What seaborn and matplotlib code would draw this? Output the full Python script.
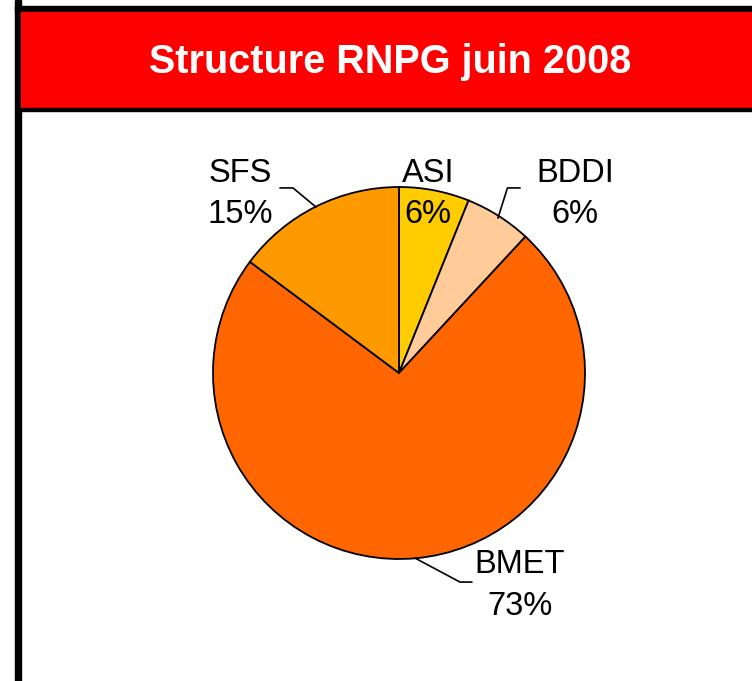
import matplotlib
matplotlib.use("Agg")
import matplotlib.pyplot as plt
import seaborn as sns
from matplotlib.patches import Rectangle

sns.set_theme(style="white")
plt.rcParams['font.family'] = ['Liberation Sans', 'DejaVu Sans']

title = "Structure RNPG juin 2008"
categories = ["ASI", "BDDI", "BMET", "SFS"]
values = [6.1, 5.8, 73.3, 14.8]
colors = ["#FFCC00", "#FFCC99", "#FF6600", "#FF9900"]

W, H = 752, 681
fig = plt.figure(figsize=(W / 100, H / 100), dpi=100)
fig.patch.set_facecolor("white")

def fx(px):
    return px / W

def fy(py):
    return 1 - py / H

# frame
fig.patches.append(Rectangle((fx(15), 0), fx(6), 1, transform=fig.transFigure, color="black", zorder=1))
fig.patches.append(Rectangle((fx(15), fy(12)), 1, fy(6) - fy(12), transform=fig.transFigure, color="black", zorder=1))
fig.patches.append(Rectangle((fx(21), fy(108)), 1, fy(12) - fy(108), transform=fig.transFigure, color="#FF0000", zorder=1))
fig.patches.append(Rectangle((fx(21), fy(111)), 1, fy(108) - fy(111), transform=fig.transFigure, color="black", zorder=1))
fig.text(fx(390), fy(62), title, color="white", fontsize=28.5, fontweight="bold",
         ha="center", va="center")

cx, cy, r = 399, 373, 186
scale = 1.6
ax = fig.add_axes([fx(cx - r * scale), fy(cy + r * scale), (2 * r * scale) / W, (2 * r * scale) / H])
wedges, _ = ax.pie(values, colors=colors, startangle=90, counterclock=False,
                   wedgeprops=dict(edgecolor="black", linewidth=1.3))
ax.set_xlim(-scale, scale)
ax.set_ylim(-scale, scale)
ax.set_aspect("equal")
ax.axis("off")

total = sum(values)
pcts = [f"{round(v / total * 100):d}%" for v in values]

label_pos = {"ASI": (0.156, 0.962), "BDDI": (0.946, 0.962), "BMET": (0.65, -1.142), "SFS": (-0.855, 0.962)}
for cat, p in zip(categories, pcts):
    x, y = label_pos[cat]
    ax.text(x, y, f"{cat}\n{p}", ha="center", va="center", fontsize=23.5, color="black",
            linespacing=1.45)

leaders = {
    "SFS": ([-0.640, -0.570, -0.446], [0.995, 0.995, 0.892]),
    "BDDI": ([0.651, 0.583, 0.532], [0.995, 0.995, 0.833]),
    "BMET": ([0.086, 0.328, 0.392], [-0.995, -1.124, -1.124]),
}
for cat, (xs, ys) in leaders.items():
    ax.plot(xs, ys, color="black", linewidth=1.2)

fig.savefig("out.png", dpi=100)
